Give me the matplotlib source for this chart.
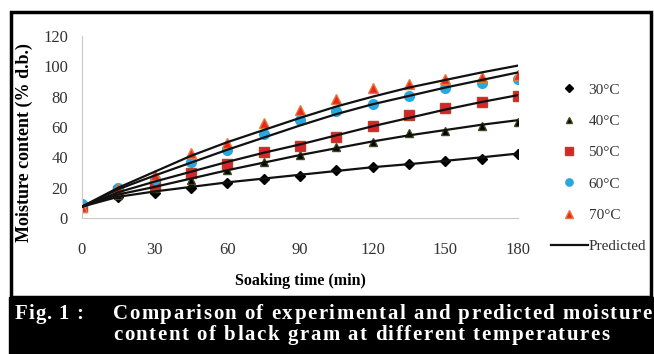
import numpy as np
import matplotlib.pyplot as plt
from matplotlib.patches import Rectangle
from matplotlib.font_manager import FontProperties

# soaking time (min)
t = [0, 15, 30, 45, 60, 75, 90, 105, 120, 135, 150, 165, 180]

# experimental moisture content (% d.b.)
m30 = [7.5, 14, 16.5, 20, 23, 25.7, 28, 31.6, 33.8, 35.4, 37.4, 39.1, 42.2]
m40 = [7.5, 15, 19.8, 25, 31.6, 36.7, 41.5, 47, 50.3, 55.8, 57.3, 60.9, 63]
m50 = [7, 18, 22, 30, 35.4, 43.3, 47.7, 53.6, 60.6, 67.9, 72.3, 76.7, 80.6]
m60 = [9.5, 19.5, 26, 37, 44.8, 55.2, 64.6, 70.5, 75.1, 80.6, 85.5, 88.8, 91.4]
m70 = [7, 20, 28.3, 42.6, 49.2, 62.9, 71.2, 78.2, 85.5, 88.3, 91.6, 93.1, 94.2]

# predicted values
p30 = [7.5, 14, 17.5, 20.5, 23.5, 26, 28.5, 31, 33.5, 35.5, 37.7, 40, 42.5]
p40 = [7.5, 15.5, 20.5, 26, 31.5, 36.5, 41.5, 46, 50.5, 54.5, 58, 61.5, 64.5]
p50 = [7.5, 17, 24, 30.5, 37, 43, 48.5, 54.5, 60.5, 66, 71.5, 76.5, 81]
p60 = [7.5, 19, 28, 36.5, 45, 53, 61, 68.5, 75, 80.5, 86, 91, 96]
p70 = [7.5, 20, 30.5, 41, 50, 58, 66, 73.5, 80, 86, 91, 96, 100.5]

labels = ['30°C', '40°C', '50°C', '60°C', '70°C']
fig_no = 'Fig. 1 :'
caption1 = 'Comparison of experimental and predicted moisture'
caption2 = 'content of black gram at different temperatures'

W, H = 654, 354
fig = plt.figure(figsize=(W / 100, H / 100), dpi=100)

def fx(px):
    return px / W

def fy(py):
    return 1 - py / H

# frame and caption band
fig.patches.append(Rectangle((fx(11), fy(297)), fx(640), 285 / H, transform=fig.transFigure,
                             fill=False, ec='black', lw=2.5, zorder=0))
fig.patches.append(Rectangle((fx(9), 0), fx(645), 57 / H, transform=fig.transFigure,
                             fc='black', ec='black', zorder=0))

ax = fig.add_axes([fx(82), fy(218), fx(518 - 82), (218 - 36) / H])
serif = 'Liberation Serif'

ax.plot(t, m30, 'D', color='black', ms=5, label=labels[0], zorder=2)
ax.plot(t, m40, '^', color='black', mec='#3a4a1a', ms=6, label=labels[1], zorder=2)
ax.plot(t, m50, 's', color='#d7262b', mec='#b8402a', ms=7, label=labels[2], zorder=2)
ax.plot(t, m60, 'o', color='#2aa7df', mec='#2aa7df', ms=7, label=labels[3], zorder=2)
ax.plot(t, m70, '^', color='#e8281f', mec='#e87a3a', ms=7, label=labels[4], zorder=2)

for i, p in enumerate([p30, p40, p50, p60, p70]):
    ax.plot(t, p, '-', color='#111111', lw=1.6, zorder=3,
            label='Predicted' if i == 0 else None)

ax.set_xlim(0, 180)
ax.set_ylim(0, 120)
ax.set_xticks(range(0, 181, 30))
ax.set_yticks(range(0, 121, 20))
for s in ['top', 'right']:
    ax.spines[s].set_visible(False)
ax.spines['left'].set_color('#c8c8c8')
ax.spines['bottom'].set_color('#c8c8c8')
ax.tick_params(length=0, labelsize=12, labelcolor='#333333')
ax.tick_params(axis='x', pad=17)
ax.tick_params(axis='y', pad=10)
for lab in ax.get_xticklabels() + ax.get_yticklabels():
    lab.set_fontfamily(serif)

ax.set_xlabel('Soaking time (min)', fontfamily=serif, fontweight='bold', fontsize=11.5)
ax.xaxis.set_label_coords(0.5, -(281 - 218) / 182, transform=ax.transAxes)
ax.xaxis.label.set_va('center')
fig.text(fx(24), fy(143), 'Moisture content (% d.b.)', rotation=90, ha='center', va='center',
         fontfamily=serif, fontweight='bold', fontsize=13)

h, l = ax.get_legend_handles_labels()
leg = fig.legend(h, l, loc='upper left', bbox_to_anchor=(fx(545), fy(77)), frameon=False,
                 prop={'family': serif, 'size': 11}, labelspacing=1.15, markerscale=0.75,
                 handlelength=2.4, handletextpad=0.05, borderaxespad=0)
for txt in leg.get_texts():
    txt.set_color('#333333')

# caption, letter-spaced to fill the line like the print
cap_font = FontProperties(family=serif, weight='bold', size=15)
renderer = fig.canvas.get_renderer()

def spaced_text(s, x0, x1, ybase):
    full = renderer.get_text_width_height_descent(s, cap_font, ismath=False)[0]
    track = (x1 - x0 - full) / (len(s) - 1)
    for i, ch in enumerate(s):
        if ch == ' ':
            continue
        pre = renderer.get_text_width_height_descent(s[:i], cap_font, ismath=False)[0] if i else 0
        fig.text(fx(x0 + pre + i * track), fy(ybase), ch, color='white',
                 fontproperties=cap_font, va='baseline', ha='left')

spaced_text(fig_no, 15, 83, 319)
spaced_text(caption1, 113, 651, 319)
spaced_text(caption2, 113, 609, 340)

fig.savefig('out.png', dpi=100)
